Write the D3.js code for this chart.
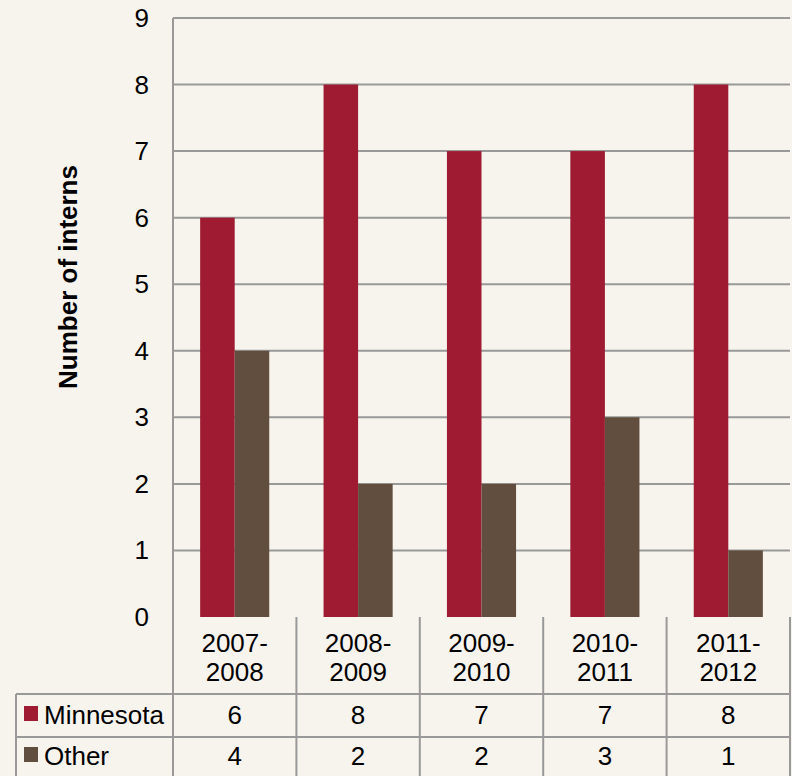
<!DOCTYPE html>
<html>
<head>
<script src="https://d3js.org/d3.v7.min.js"></script>
<style>
	body { margin:0; background:#F7F4EE; }
	svg { display:block; }
</style>
</head>
<body>
<svg id="chart" width="792" height="776"></svg>
<script>
var categories = [["2007-","2008"],["2008-","2009"],["2009-","2010"],["2010-","2011"],["2011-","2012"]];
var seriesNames = ["Minnesota","Other"];
var minnesota = [6,8,7,7,8];
var other = [4,2,2,3,1];
var yTicks = [0,1,2,3,4,5,6,7,8,9];
var colors = ["#9E1B32","#614E3E"];

var svg = d3.select("#chart");
var plotLeft = 173, plotRight = 790, plotTop = 18, plotBottom = 617;
var font = "Arial, 'Liberation Sans', sans-serif";
var fs = 26;

var x = d3.scaleBand().domain(d3.range(categories.length)).range([plotLeft,plotRight]).paddingInner(0.44).paddingOuter(0.22);
var x0 = d3.scaleBand().domain(d3.range(categories.length)).range([plotLeft,plotRight]);
var y = d3.scaleLinear().domain([0,9]).range([plotBottom,plotTop]);
var xs = d3.scaleBand().domain([0,1]).range([0,x.bandwidth()]);

// gridlines
svg.append("g").selectAll("line").data(yTicks.filter(d=>d>0)).enter().append("line")
	.attr("x1",plotLeft).attr("x2",plotRight).attr("y1",d=>y(d)).attr("y2",d=>y(d))
	.attr("stroke","#999").attr("stroke-width",2);
svg.append("line").attr("x1",plotLeft).attr("x2",plotLeft).attr("y1",plotTop).attr("y2",plotBottom)
	.attr("stroke","#999").attr("stroke-width",2);

// bars
var data = [minnesota, other];
data.forEach(function(vals,si){
	svg.append("g").selectAll("rect").data(vals).enter().append("rect")
		.attr("x",(d,i)=>x(i)+xs(si))
		.attr("width",xs.bandwidth())
		.attr("y",d=>y(d))
		.attr("height",d=>y(0)-y(d))
		.attr("fill",colors[si]);
});

// y tick labels
svg.append("g").selectAll("text").data(yTicks).enter().append("text")
	.attr("x",149).attr("y",d=>y(d)+9)
	.attr("text-anchor","end").attr("font-family",font).attr("font-size",fs).attr("fill","#000")
	.text(d=>d);

// y title
svg.append("text").attr("transform","translate(77,277) rotate(-90)")
	.attr("text-anchor","middle").attr("font-family",font).attr("font-size",fs)
	.attr("font-weight","bold").text("Number of interns");

// data table
var tableLeft = 16, rowY = [617,694,737,776];
var g = svg.append("g").attr("stroke","#999").attr("stroke-width",2);
d3.range(categories.length+1).forEach(function(i){
	var xx = i<categories.length ? x0(i) : plotRight;
	g.append("line").attr("x1",xx).attr("x2",xx).attr("y1",plotBottom).attr("y2",776);
});
g.append("line").attr("x1",tableLeft).attr("x2",tableLeft).attr("y1",rowY[1]).attr("y2",776);
[rowY[1],rowY[2]].forEach(function(yy){
	g.append("line").attr("x1",tableLeft).attr("x2",plotRight).attr("y1",yy).attr("y2",yy);
});

// category labels
categories.forEach(function(c,i){
	var cx = x0(i)+x0.bandwidth()/2;
	svg.append("text").attr("x",cx).attr("y",652).attr("text-anchor","middle")
		.attr("font-family",font).attr("font-size",fs).text(c[0]);
	svg.append("text").attr("x",cx).attr("y",681).attr("text-anchor","middle")
		.attr("font-family",font).attr("font-size",fs).text(c[1]);
});

// series rows
var rowBase = [724,765];
data.forEach(function(vals,si){
	var ty = rowBase[si];
	svg.append("rect").attr("x",24).attr("y",ty-18).attr("width",14).attr("height",15).attr("fill",colors[si]);
	svg.append("text").attr("x",44).attr("y",ty).attr("font-family",font).attr("font-size",fs).text(seriesNames[si]);
	vals.forEach(function(v,i){
		svg.append("text").attr("x",x0(i)+x0.bandwidth()/2).attr("y",ty).attr("text-anchor","middle")
			.attr("font-family",font).attr("font-size",fs).text(v);
	});
});
</script>
</body>
</html>
